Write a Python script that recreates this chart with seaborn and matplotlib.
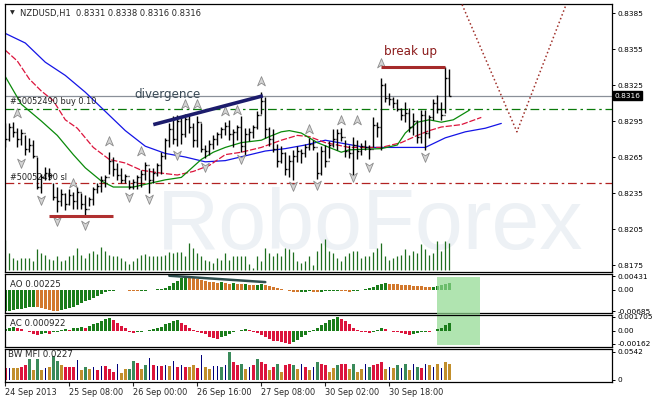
import matplotlib
matplotlib.use("Agg")
import numpy as np
import matplotlib.pyplot as plt
import seaborn as sns
from matplotlib.path import Path
from matplotlib.patches import Rectangle

# NZDUSD H1 bars, 24 Sep 16:00 .. 1 Oct 09:00
highs = [0.8293, 0.8293, 0.8294, 0.8289, 0.8288, 0.8283, 0.8281, 0.8279, 0.8265, 0.8251,
         0.8257, 0.8256, 0.8243, 0.8240, 0.8238, 0.8235, 0.8238, 0.8236, 0.8240, 0.8235,
         0.8233, 0.8232, 0.8240, 0.8243, 0.8249, 0.8250, 0.8269, 0.8265, 0.8260, 0.8256,
         0.8251, 0.8246, 0.8247, 0.8250, 0.8254, 0.8261, 0.8256, 0.8256, 0.8260, 0.8269,
         0.8281, 0.8293, 0.8299, 0.8300, 0.8299, 0.8301, 0.8300, 0.8293, 0.8299, 0.8293,
         0.8275, 0.8279, 0.8283, 0.8286, 0.8290, 0.8294, 0.8296, 0.8288, 0.8292, 0.8299,
         0.8289, 0.8289, 0.8292, 0.8303, 0.8319, 0.8315, 0.8290, 0.8288, 0.8276, 0.8274,
         0.8269, 0.8267, 0.8271, 0.8274, 0.8272, 0.8276, 0.8281, 0.8279, 0.8269, 0.8274,
         0.8275, 0.8278, 0.8288, 0.8288, 0.8289, 0.8279, 0.8275, 0.8282, 0.8279, 0.8277,
         0.8279, 0.8275, 0.8298, 0.8294, 0.8331, 0.8327, 0.8318, 0.8315, 0.8313, 0.8306,
         0.8311, 0.8306, 0.8302, 0.8296, 0.8304, 0.8304, 0.8300, 0.8313, 0.8317, 0.8311,
         0.8340, 0.8338]
lows = [0.8273, 0.8278, 0.8282, 0.8273, 0.8275, 0.8267, 0.8269, 0.8264, 0.8238, 0.8235,
        0.8246, 0.8246, 0.8229, 0.8219, 0.8224, 0.8221, 0.8225, 0.8222, 0.8222, 0.8222,
        0.8215, 0.8224, 0.8225, 0.8235, 0.8236, 0.8240, 0.8251, 0.8249, 0.8246, 0.8243,
        0.8243, 0.8238, 0.8238, 0.8238, 0.8240, 0.8246, 0.8235, 0.8243, 0.8249, 0.8251,
        0.8263, 0.8273, 0.8276, 0.8274, 0.8276, 0.8282, 0.8285, 0.8273, 0.8273, 0.8269,
        0.8264, 0.8267, 0.8272, 0.8275, 0.8281, 0.8283, 0.8279, 0.8273, 0.8279, 0.8269,
        0.8267, 0.8278, 0.8281, 0.8288, 0.8301, 0.8281, 0.8274, 0.8269, 0.8257, 0.8260,
        0.8250, 0.8248, 0.8246, 0.8261, 0.8260, 0.8265, 0.8271, 0.8271, 0.8247, 0.8250,
        0.8257, 0.8264, 0.8273, 0.8271, 0.8278, 0.8265, 0.8264, 0.8250, 0.8263, 0.8267,
        0.8271, 0.8263, 0.8273, 0.8282, 0.8271, 0.8311, 0.8308, 0.8306, 0.8303, 0.8296,
        0.8294, 0.8286, 0.8283, 0.8277, 0.8277, 0.8271, 0.8281, 0.8296, 0.8302, 0.8296,
        0.8302, 0.8316]
closes = [0.8280, 0.8290, 0.8286, 0.8280, 0.8285, 0.8272, 0.8275, 0.8266, 0.8240, 0.8248,
          0.8252, 0.8250, 0.8232, 0.8228, 0.8234, 0.8226, 0.8233, 0.8228, 0.8236, 0.8226,
          0.8222, 0.8230, 0.8238, 0.8241, 0.8246, 0.8248, 0.8262, 0.8255, 0.8250, 0.8246,
          0.8249, 0.8240, 0.8244, 0.8248, 0.8251, 0.8258, 0.8246, 0.8252, 0.8258, 0.8266,
          0.8279, 0.8288, 0.8280, 0.8295, 0.8284, 0.8297, 0.8290, 0.8279, 0.8294, 0.8272,
          0.8270, 0.8276, 0.8280, 0.8284, 0.8288, 0.8291, 0.8284, 0.8286, 0.8290, 0.8274,
          0.8284, 0.8286, 0.8290, 0.8300, 0.8312, 0.8288, 0.8280, 0.8272, 0.8262, 0.8268,
          0.8255, 0.8262, 0.8266, 0.8270, 0.8268, 0.8273, 0.8276, 0.8273, 0.8252, 0.8270,
          0.8262, 0.8275, 0.8280, 0.8285, 0.8282, 0.8270, 0.8268, 0.8275, 0.8270, 0.8274,
          0.8273, 0.8272, 0.8292, 0.8290, 0.8325, 0.8314, 0.8313, 0.8310, 0.8305, 0.8300,
          0.8302, 0.8290, 0.8295, 0.8282, 0.8300, 0.8285, 0.8298, 0.8310, 0.8305, 0.8300,
          0.8331, 0.8316]
opens = [0.8285] + closes[:-1]
volumes = [1470, 830, 580, 500, 580, 580, 580, 420, 1030, 830,
           750, 530, 500, 670, 420, 500, 670, 750, 1080, 750,
           580, 830, 920, 800, 1130, 950, 750, 670, 670, 580,
           420, 300, 420, 580, 750, 780, 700, 670, 700, 670,
           750, 870, 830, 870, 870, 670, 1300, 1080, 830, 670,
           500, 420, 330, 580, 500, 830, 500, 700, 670, 670,
           700, 300, 80, 700, 420, 1080, 830, 670, 830, 700,
           1080, 1030, 870, 420, 330, 420, 670, 250, 920, 1300,
           1530, 920, 830, 580, 420, 670, 830, 920, 920, 580,
           670, 670, 870, 1080, 1300, 670, 470, 580, 700, 750,
           1000, 750, 920, 830, 1250, 1000, 750, 830, 1420, 920,
           1420, 1300]

# Alligator (bar position, price)
jaw_x = [0, 5, 10, 15, 20, 25, 30, 35, 40, 45, 50, 55, 60, 65, 70, 75, 80, 85, 90,
         95, 100, 105, 110, 115, 120, 124]
jaw_y = [0.8368, 0.8360, 0.8344, 0.8333, 0.8319, 0.8303, 0.8287, 0.8274, 0.8268,
         0.8265, 0.8261, 0.8262, 0.8266, 0.8270, 0.8272, 0.8275, 0.8279, 0.8276,
         0.8273, 0.8273, 0.8273, 0.8273, 0.8281, 0.8286, 0.8289, 0.8293]
teeth_x = [0, 3, 6, 9, 12, 15, 18, 22, 26, 30, 34, 38, 43, 47, 51, 55, 59, 64, 69,
           73, 76, 80, 86, 94, 99, 103, 106, 109, 114, 119]
teeth_y = [0.8354, 0.8345, 0.8330, 0.8320, 0.8312, 0.8296, 0.8289, 0.8273, 0.8263,
           0.8260, 0.8254, 0.8252, 0.8250, 0.8253, 0.8258, 0.8267, 0.8269, 0.8273,
           0.8279, 0.8283, 0.8282, 0.8277, 0.8273, 0.8273, 0.8277, 0.8283, 0.8287,
           0.8290, 0.8292, 0.8298]
lips_x = [0, 4, 9, 13, 17, 20, 24, 27, 32, 36, 40, 44, 46, 49, 52, 55, 59, 64, 66,
          69, 71, 74, 78, 81, 84, 86, 94, 98, 100, 103, 106, 109, 112, 116]
lips_y = [0.8332, 0.8309, 0.8295, 0.8283, 0.8267, 0.8256, 0.8245, 0.8240, 0.8240,
          0.8243, 0.8246, 0.8248, 0.8254, 0.8263, 0.8269, 0.8273, 0.8277, 0.8279,
          0.8282, 0.8286, 0.8287, 0.8285, 0.8277, 0.8273, 0.8269, 0.8271, 0.8272,
          0.8275, 0.8285, 0.8294, 0.8296, 0.8294, 0.8296, 0.8304]

# fractal arrows (bar, price)
frac_up_x = [3, 17, 26, 34, 45, 48, 55, 58, 64, 76, 84, 88, 94]
frac_up_y = [0.8302, 0.8243, 0.8278, 0.8270, 0.8309, 0.8309, 0.8303, 0.8304,
             0.8328, 0.8288, 0.8296, 0.8296, 0.8343]
frac_dn_x = [4, 9, 13, 20, 31, 36, 43, 50, 59, 72, 78, 87, 91, 105]
frac_dn_y = [0.8260, 0.8229, 0.8212, 0.8208, 0.8232, 0.8230, 0.8267, 0.8257,
             0.8263, 0.8241, 0.8242, 0.8248, 0.8257, 0.8265]

# drawn objects
current_price = 0.8316
buy_price = 0.8305
sl_price = 0.8243
div_x, div_y = [37, 64.4], [0.8292, 0.8316]
support_x, support_y = [11, 27], [0.8216, 0.8216]
breakup_x, breakup_y = [94, 110], [0.8340, 0.8340]
proj_x, proj_y = [114.2, 127.9, 140.2], [0.8392, 0.8286, 0.8392]
ao_div_x, ao_div_y = [41, 65], [0.0044, 0.0024]

# indicators (AO, AC in 1e-4, MFI in 1e-3)
ao = [-68, -66, -64, -62, -60, -57, -55, -53, -55, -58,
      -61, -64, -66, -67, -65, -62, -58, -54, -49, -43,
      -37, -31, -25, -19, -13, -8, -5, -3, -2, -1,
      -2, -3, -4, -5, -4, -3, -2, -1, 1, 3,
      6, 12, 20, 28, 36, 43, 41, 38, 34, 30,
      27, 25, 23, 22, 23, 21, 19, 20, 18, 17,
      18, 16, 15, 16, 17, 14, 11, 8, 5, 2,
      -1, -4, -7, -8, -7, -6, -5, -6, -7, -6,
      -5, -4, -4, -3, -4, -5, -6, -5, -3, -1,
      2, 6, 10, 14, 18, 20, 19, 18, 17, 16,
      15, 14, 13, 12, 11, 10, 9, 10, 12, 15,
      19, 22.5]
ac = [2, 4, 5, 3, 2, 0, -2, -4, -5, -4,
      -3, -4, -2, -1, 1, 2, 1, 3, 4, 5,
      4, 6, 8, 10, 12, 14, 16, 13, 10, 6,
      3, -2, -3, -2, -1, 0, 1, 2, 3, 5,
      8, 10, 12, 13, 10, 7, 4, 1, -2, -3,
      -4, -7, -9, -10, -8, -6, -4, -2, 0, 1,
      2, 1, -1, -3, -5, -8, -10, -12, -13, -14,
      -15, -16, -14, -11, -8, -5, -2, 1, 4, 7,
      10, 13, 15, 17, 15, 12, 8, 4, 1, -1,
      -2, -3, -1, 1, 3, 2, 0, -1, -2, -3,
      -4, -5, -4, -3, -2, -1, -2, 0, 2, 4,
      7, 9.22]
mfi = [23, 22, 23, 23, 24, 29, 41, 18, 41, 18,
       22, 24, 47, 37, 28, 24, 24, 24, 38, 18,
       24, 20, 24, 18, 26, 26, 20, 14, 30, 13,
       21, 21, 37, 32, 21, 29, 43, 28, 26, 26,
       29, 26, 37, 24, 28, 24, 24, 28, 22, 49,
       24, 20, 26, 26, 24, 28, 54, 34, 28, 30,
       20, 25, 28, 40, 35, 30, 18, 25, 30, 15,
       28, 30, 28, 20, 30, 25, 18, 25, 35, 30,
       28, 15, 22, 28, 30, 30, 20, 30, 15, 20,
       30, 25, 28, 30, 35, 20, 25, 22, 28, 22,
       30, 18, 30, 25, 22, 30, 28, 25, 30, 22,
       35, 30]
mfi_kind = ("sfbbssgbgb" "fbggbsssfb" "gbfsfsssfb" "bggsbgfsfs" "fbfsfsbbsf"
            "bbffgfgssg" "bfsgssbsgb" "ssgbfsbfgs" "sbbgssbgbb" "fgsssbfbgf"
            "gbfgsfbfbf" "bb")

time_ticks = [0, 16, 32, 48, 64, 80, 96]
time_labels = ["24 Sep 2013", "25 Sep 08:00", "26 Sep 00:00", "26 Sep 16:00",
               "27 Sep 08:00", "30 Sep 02:00", "30 Sep 18:00"]
price_ticks = [0.8385, 0.8355, 0.8325, 0.8295, 0.8265, 0.8235, 0.8205, 0.8175]

sns.set_style("white")
plt.rcParams["font.family"] = ["DejaVu Sans"]

W, H = 654, 400
fig = plt.figure(figsize=(W / 100, H / 100), dpi=100)
fig.patch.set_facecolor("white")


def add_panel(top, bottom, left=5, right=612):
    ax = fig.add_axes([left / W, 1 - bottom / H, (right - left) / W, (bottom - top) / H])
    ax.set_xlim(-0.075, 151.675)
    ax.patch.set_visible(False)
    for s in ax.spines.values():
        s.set_color("black")
        s.set_linewidth(0.9)
    return ax


def right_ticks(ax, ticks, labels):
    ax.yaxis.tick_right()
    ax.set_yticks(ticks)
    ax.set_yticklabels(labels)
    ax.tick_params(axis="y", direction="out", length=2.5, width=0.7,
                   labelsize=5.3, pad=1.5, colors="black")
    ax.tick_params(axis="x", bottom=False, labelbottom=False)


n = len(closes)
idx = np.arange(n)

# ---------------- main price panel ----------------
vax = add_panel(4, 272)
vax.set_ylim(-100, 13000)
vax.axis("off")
vax.vlines(idx, 0, volumes, color="#1e6e1e", lw=0.9)
vax.text(0.25, 0.085, "RoboForex", transform=vax.transAxes, fontsize=62,
         family="Liberation Sans", color="#edf1f5", ha="left", va="baseline", zorder=0)

ax = add_panel(4, 272)
ax.set_ylim(0.81692, 0.83925)
right_ticks(ax, price_ticks, [f"{p:.4f}" for p in price_ticks])

ax.axhline(current_price, color="#8a9099", lw=0.9, zorder=1)
ax.axhline(buy_price, color="#0a7a0a", lw=0.9, dashes=(7, 3, 2, 3), zorder=1)
ax.axhline(sl_price, color="#b22222", lw=0.9, dashes=(7, 3, 2, 3), zorder=1)
ax.text(1.2, 0.8311, "#50052490 buy 0.10", fontsize=5.9, va="center", color="#222222")
ax.text(1.2, 0.8248, "#50052490 sl", fontsize=5.9, va="center", color="#222222")

ax.plot(jaw_x, jaw_y, color="#1414e6", lw=0.9, zorder=2)
ax.plot(teeth_x, teeth_y, color="#dc143c", lw=0.9, dashes=(5, 1.5), zorder=2)
ax.plot(lips_x, lips_y, color="#0a8a0a", lw=0.9, zorder=2)

ax.vlines(idx, lows, highs, color="black", lw=1.0, zorder=3)
ax.hlines(opens, idx - 0.45, idx, color="black", lw=1.0, zorder=3)
ax.hlines(closes, idx, idx + 0.45, color="black", lw=1.0, zorder=3)

up_arrow = Path([(0, 1), (0.8, -0.9), (0, -0.35), (-0.8, -0.9), (0, 1)],
                [Path.MOVETO, Path.LINETO, Path.LINETO, Path.LINETO, Path.CLOSEPOLY])
dn_arrow = Path([(x, -y) for x, y in up_arrow.vertices], up_arrow.codes)
ax.plot(frac_up_x, frac_up_y, ls="none", marker=up_arrow, ms=7, mfc="#d4d4d4",
        mec="#8c8c8c", mew=0.6, zorder=4)
ax.plot(frac_dn_x, frac_dn_y, ls="none", marker=dn_arrow, ms=7, mfc="#d4d4d4",
        mec="#8c8c8c", mew=0.6, zorder=4)

ax.plot(div_x, div_y, color="#1c1c6c", lw=2.6, solid_capstyle="butt", zorder=5)
ax.plot(support_x, support_y, color="#b03030", lw=2.2, solid_capstyle="butt", zorder=5)
ax.plot(breakup_x, breakup_y, color="#a52a2a", lw=2.2, solid_capstyle="butt", zorder=5)
ax.plot(proj_x, proj_y, color="#a0302a", ls=":", lw=1.1, zorder=5)
ax.text(40.5, 0.83175, "divergence", fontsize=8.6, color="#3a4a56", ha="center", va="center")
ax.text(101.4, 0.83533, "break up", fontsize=8.6, color="#8b1a1a", ha="center", va="center")

ax.text(0.009, 0.966, "\u25bc", transform=ax.transAxes, fontsize=4.5, va="center")
ax.text(0.025, 0.966, "NZDUSD,H1  0.8331 0.8338 0.8316 0.8316", transform=ax.transAxes,
        fontsize=6.0, va="center")
ax.text(1.004, current_price, f"{current_price:.4f}", transform=ax.get_yaxis_transform(),
        color="white", fontsize=5.3, va="center", ha="left",
        bbox=dict(boxstyle="square,pad=0.2", fc="black", ec="black"))

# ---------------- AO ----------------
ao_vals = [v * 1e-4 for v in ao]
ao_cols = ["#1a7d1a" if i == 0 or ao_vals[i] >= ao_vals[i - 1] else "#d2782d" for i in range(n)]
ax_ao = add_panel(274, 313)
ax_ao.set_ylim(-0.00733, 0.00495)
ax_ao.bar(idx, ao_vals, width=0.75, color=ao_cols, linewidth=0)
ax_ao.plot(ao_div_x, ao_div_y, color="#2f4f4f", lw=1.8)
right_ticks(ax_ao, [0.00431, 0, -0.00685], ["0.00431", "0.00", "-0.00685"])
ax_ao.text(0.008, 0.74, "AO 0.00225", transform=ax_ao.transAxes, fontsize=6.2, va="center")

# ---------------- AC ----------------
ac_vals = [v * 1e-4 for v in ac]
ac_cols = ["#1a7d1a" if i == 0 or ac_vals[i] >= ac_vals[i - 1] else "#dc143c" for i in range(n)]
ax_ac = add_panel(315, 347)
ax_ac.set_ylim(-0.00199, 0.00195)
ax_ac.bar(idx, ac_vals, width=0.75, color=ac_cols, linewidth=0, zorder=2)
right_ticks(ax_ac, [0.001705, 0, -0.00162], ["0.001705", "0.00", "-0.00162"])
ax_ac.text(0.008, 0.75, "AC 0.000922", transform=ax_ac.transAxes, fontsize=6.2, va="center")
ax_ac.add_patch(Rectangle((107.9, -0.00174), 10.8, 0.00837, facecolor="#8fd98f",
                          alpha=0.7, edgecolor="none", clip_on=False, zorder=1))

# ---------------- BW MFI ----------------
kind_col = {"g": "#3a8a5a", "b": "#c28f2c", "f": "#00007a", "s": "#dc143c"}
ax_m = add_panel(349, 382)
ax_m.set_ylim(-0.0049, 0.0601)
for kind in "gbfs":
    sel = [i for i in range(n) if mfi_kind[i] == kind]
    ax_m.bar(sel, [mfi[i] * 1e-3 for i in sel], width=0.25 if kind == "f" else 0.75,
             color=kind_col[kind], linewidth=0)
right_ticks(ax_m, [0.0542, 0], ["0.0542", "0"])
ax_m.text(0.005, 0.82, "BW MFI 0.0227", transform=ax_m.transAxes, fontsize=6.2, va="center")
ax_m.set_xticks(time_ticks)
ax_m.set_xticklabels(time_labels)
ax_m.tick_params(axis="x", bottom=True, labelbottom=True, direction="out", length=3,
                 width=0.8, labelsize=5.9, pad=1.5)
for lbl in ax_m.get_xticklabels():
    lbl.set_ha("left")

fig.savefig("out.png", dpi=100, facecolor="white")
